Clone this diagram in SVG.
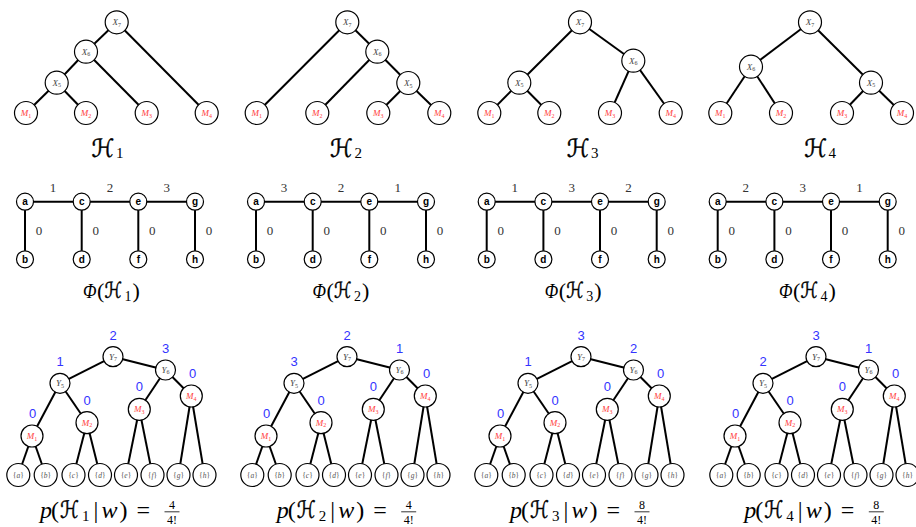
<svg xmlns="http://www.w3.org/2000/svg" width="916" height="527" viewBox="0 0 916 527">
<style>
.e{stroke:#000;stroke-width:2;fill:none}
.n{fill:#fff;stroke:#000;stroke-width:1.2}
.x{font-family:"Liberation Serif","DejaVu Serif",serif;font-style:italic;font-size:9px;fill:#444;text-anchor:middle}
.m{font-family:"Liberation Serif","DejaVu Serif",serif;font-style:italic;font-size:9px;fill:#ff4040;text-anchor:middle}
.s{font-size:6px;font-style:normal}
.lt{font-family:"Liberation Sans",sans-serif;font-weight:bold;font-size:10px;text-anchor:middle}
.w{font-family:"Liberation Serif",serif;font-size:13px;fill:#333;text-anchor:middle}
.b{font-family:"Liberation Sans",sans-serif;font-size:13px;fill:#3333ff;text-anchor:middle}
.lf{font-family:"Liberation Serif",serif;font-size:7.5px;fill:#555;text-anchor:middle}
.hs{font-family:"DejaVu Sans",sans-serif;fill:#000;stroke:#000;stroke-width:0.45}
.t{font-family:"Liberation Serif","DejaVu Serif",serif;fill:#000}
.i{font-style:italic}
.z25{font-size:25px}.z24{font-size:24px}.z22{font-size:22px}.z15{font-size:15px}.z14{font-size:14px}.z12{font-size:12px}
.fb{stroke:#000;stroke-width:0.8}
</style>
<rect width="916" height="527" fill="#fff"/>

<g id="connectors">
 <line class="e" x1="116.7" y1="22.3" x2="86" y2="51.7"/>
 <line class="e" x1="116.7" y1="22.3" x2="206.7" y2="113"/>
 <line class="e" x1="86" y1="51.7" x2="56.7" y2="82.7"/>
 <line class="e" x1="86" y1="51.7" x2="146.7" y2="113"/>
 <line class="e" x1="56.7" y1="82.7" x2="26" y2="113"/>
 <line class="e" x1="56.7" y1="82.7" x2="86" y2="113"/>

 <line class="e" x1="347.3" y1="22.3" x2="256.7" y2="113"/>
 <line class="e" x1="347.3" y1="22.3" x2="377.3" y2="51.7"/>
 <line class="e" x1="377.3" y1="51.7" x2="317.3" y2="113"/>
 <line class="e" x1="377.3" y1="51.7" x2="408.3" y2="83"/>
 <line class="e" x1="408.3" y1="83" x2="378.3" y2="113"/>
 <line class="e" x1="408.3" y1="83" x2="439.3" y2="113"/>

 <line class="e" x1="580" y1="22.3" x2="519.3" y2="82.7"/>
 <line class="e" x1="580" y1="22.3" x2="633.3" y2="60.7"/>
 <line class="e" x1="519.3" y1="82.7" x2="489.3" y2="113"/>
 <line class="e" x1="519.3" y1="82.7" x2="549.3" y2="113"/>
 <line class="e" x1="633.3" y1="60.7" x2="610" y2="113"/>
 <line class="e" x1="633.3" y1="60.7" x2="670.7" y2="113"/>

 <line class="e" x1="810" y1="22.3" x2="751" y2="66.7"/>
 <line class="e" x1="810" y1="22.3" x2="871" y2="82.7"/>
 <line class="e" x1="751" y1="66.7" x2="720.3" y2="113"/>
 <line class="e" x1="751" y1="66.7" x2="781" y2="113"/>
 <line class="e" x1="871" y1="82.7" x2="842" y2="113"/>
 <line class="e" x1="871" y1="82.7" x2="902" y2="113"/>

 <g id="mid-edges-1" transform="translate(25,0)">
  <line class="e" x1="0" y1="201.7" x2="170" y2="201.7"/>
  <line class="e" x1="0" y1="201.7" x2="0" y2="259.3"/>
  <line class="e" x1="56.7" y1="201.7" x2="56.7" y2="259.3"/>
  <line class="e" x1="113.3" y1="201.7" x2="113.3" y2="259.3"/>
  <line class="e" x1="170" y1="201.7" x2="170" y2="259.3"/>
  <text class="w" x="28" y="192">1</text><text class="w" x="85" y="192">2</text><text class="w" x="141.7" y="192">3</text>
  <text class="w" x="14" y="235">0</text><text class="w" x="70.7" y="235">0</text><text class="w" x="127.3" y="235">0</text><text class="w" x="184" y="235">0</text>
 </g>
 <g id="mid-edges-2" transform="translate(256,0)">
  <line class="e" x1="0" y1="201.7" x2="170" y2="201.7"/>
  <line class="e" x1="0" y1="201.7" x2="0" y2="259.3"/>
  <line class="e" x1="56.7" y1="201.7" x2="56.7" y2="259.3"/>
  <line class="e" x1="113.3" y1="201.7" x2="113.3" y2="259.3"/>
  <line class="e" x1="170" y1="201.7" x2="170" y2="259.3"/>
  <text class="w" x="28" y="192">3</text><text class="w" x="85" y="192">2</text><text class="w" x="141.7" y="192">1</text>
  <text class="w" x="14" y="235">0</text><text class="w" x="70.7" y="235">0</text><text class="w" x="127.3" y="235">0</text><text class="w" x="184" y="235">0</text>
 </g>
 <g id="mid-edges-3" transform="translate(486.7,0)">
  <line class="e" x1="0" y1="201.7" x2="170" y2="201.7"/>
  <line class="e" x1="0" y1="201.7" x2="0" y2="259.3"/>
  <line class="e" x1="56.7" y1="201.7" x2="56.7" y2="259.3"/>
  <line class="e" x1="113.3" y1="201.7" x2="113.3" y2="259.3"/>
  <line class="e" x1="170" y1="201.7" x2="170" y2="259.3"/>
  <text class="w" x="28" y="192">1</text><text class="w" x="85" y="192">3</text><text class="w" x="141.7" y="192">2</text>
  <text class="w" x="14" y="235">0</text><text class="w" x="70.7" y="235">0</text><text class="w" x="127.3" y="235">0</text><text class="w" x="184" y="235">0</text>
 </g>
 <g id="mid-edges-4" transform="translate(717.7,0)">
  <line class="e" x1="0" y1="201.7" x2="170" y2="201.7"/>
  <line class="e" x1="0" y1="201.7" x2="0" y2="259.3"/>
  <line class="e" x1="56.7" y1="201.7" x2="56.7" y2="259.3"/>
  <line class="e" x1="113.3" y1="201.7" x2="113.3" y2="259.3"/>
  <line class="e" x1="170" y1="201.7" x2="170" y2="259.3"/>
  <text class="w" x="28" y="192">2</text><text class="w" x="85" y="192">3</text><text class="w" x="141.7" y="192">1</text>
  <text class="w" x="14" y="235">0</text><text class="w" x="70.7" y="235">0</text><text class="w" x="127.3" y="235">0</text><text class="w" x="184" y="235">0</text>
 </g>

 <g id="bot-edges-1">
  <line class="e" x1="113" y1="356.7" x2="60" y2="383.3"/><line class="e" x1="113" y1="356.7" x2="165.5" y2="370"/>
  <line class="e" x1="60" y1="383.3" x2="32" y2="436"/><line class="e" x1="60" y1="383.3" x2="87" y2="422.7"/>
  <line class="e" x1="165.5" y1="370" x2="139.3" y2="409.3"/><line class="e" x1="165.5" y1="370" x2="191.3" y2="396"/>
  <line class="e" x1="32" y1="436" x2="18.3" y2="475"/><line class="e" x1="32" y1="436" x2="45.7" y2="475"/>
  <line class="e" x1="87" y1="422.7" x2="73.5" y2="475"/><line class="e" x1="87" y1="422.7" x2="100" y2="475"/>
  <line class="e" x1="139.3" y1="409.3" x2="126" y2="475"/><line class="e" x1="139.3" y1="409.3" x2="152.5" y2="475"/>
  <line class="e" x1="191.3" y1="396" x2="178.5" y2="475"/><line class="e" x1="191.3" y1="396" x2="204.5" y2="475"/>
 </g>
 <g id="bot-edges-2" transform="translate(234,0)">
  <line class="e" x1="113" y1="356.7" x2="60" y2="383.3"/><line class="e" x1="113" y1="356.7" x2="165.5" y2="370"/>
  <line class="e" x1="60" y1="383.3" x2="32" y2="436"/><line class="e" x1="60" y1="383.3" x2="87" y2="422.7"/>
  <line class="e" x1="165.5" y1="370" x2="139.3" y2="409.3"/><line class="e" x1="165.5" y1="370" x2="191.3" y2="396"/>
  <line class="e" x1="32" y1="436" x2="18.3" y2="475"/><line class="e" x1="32" y1="436" x2="45.7" y2="475"/>
  <line class="e" x1="87" y1="422.7" x2="73.5" y2="475"/><line class="e" x1="87" y1="422.7" x2="100" y2="475"/>
  <line class="e" x1="139.3" y1="409.3" x2="126" y2="475"/><line class="e" x1="139.3" y1="409.3" x2="152.5" y2="475"/>
  <line class="e" x1="191.3" y1="396" x2="178.5" y2="475"/><line class="e" x1="191.3" y1="396" x2="204.5" y2="475"/>
 </g>
 <g id="bot-edges-3" transform="translate(468,0)">
  <line class="e" x1="113" y1="356.7" x2="60" y2="383.3"/><line class="e" x1="113" y1="356.7" x2="165.5" y2="370"/>
  <line class="e" x1="60" y1="383.3" x2="32" y2="436"/><line class="e" x1="60" y1="383.3" x2="87" y2="422.7"/>
  <line class="e" x1="165.5" y1="370" x2="139.3" y2="409.3"/><line class="e" x1="165.5" y1="370" x2="191.3" y2="396"/>
  <line class="e" x1="32" y1="436" x2="18.3" y2="475"/><line class="e" x1="32" y1="436" x2="45.7" y2="475"/>
  <line class="e" x1="87" y1="422.7" x2="73.5" y2="475"/><line class="e" x1="87" y1="422.7" x2="100" y2="475"/>
  <line class="e" x1="139.3" y1="409.3" x2="126" y2="475"/><line class="e" x1="139.3" y1="409.3" x2="152.5" y2="475"/>
  <line class="e" x1="191.3" y1="396" x2="178.5" y2="475"/><line class="e" x1="191.3" y1="396" x2="204.5" y2="475"/>
 </g>
 <g id="bot-edges-4" transform="translate(703,0)">
  <line class="e" x1="113" y1="356.7" x2="60" y2="383.3"/><line class="e" x1="113" y1="356.7" x2="165.5" y2="370"/>
  <line class="e" x1="60" y1="383.3" x2="32" y2="436"/><line class="e" x1="60" y1="383.3" x2="87" y2="422.7"/>
  <line class="e" x1="165.5" y1="370" x2="139.3" y2="409.3"/><line class="e" x1="165.5" y1="370" x2="191.3" y2="396"/>
  <line class="e" x1="32" y1="436" x2="18.3" y2="475"/><line class="e" x1="32" y1="436" x2="45.7" y2="475"/>
  <line class="e" x1="87" y1="422.7" x2="73.5" y2="475"/><line class="e" x1="87" y1="422.7" x2="100" y2="475"/>
  <line class="e" x1="139.3" y1="409.3" x2="126" y2="475"/><line class="e" x1="139.3" y1="409.3" x2="152.5" y2="475"/>
  <line class="e" x1="191.3" y1="396" x2="178.5" y2="475"/><line class="e" x1="191.3" y1="396" x2="204.5" y2="475"/>
 </g>
</g>

<g id="H1">
 <g id="H1-X7"><circle class="n" cx="116.7" cy="22.3" r="11.5"/><text class="x" x="116.7" y="25.3">X<tspan class="s" dy="1.5">7</tspan></text></g>
 <g id="H1-X6"><circle class="n" cx="86" cy="51.7" r="11.5"/><text class="x" x="86" y="54.7">X<tspan class="s" dy="1.5">6</tspan></text></g>
 <g id="H1-X5"><circle class="n" cx="56.7" cy="82.7" r="11.5"/><text class="x" x="56.7" y="85.7">X<tspan class="s" dy="1.5">5</tspan></text></g>
 <g id="H1-M1"><circle class="n" cx="26" cy="113" r="11.5"/><text class="m" x="26" y="116">M<tspan class="s" dy="1.5">1</tspan></text></g>
 <g id="H1-M2"><circle class="n" cx="86" cy="113" r="11.5"/><text class="m" x="86" y="116">M<tspan class="s" dy="1.5">2</tspan></text></g>
 <g id="H1-M3"><circle class="n" cx="146.7" cy="113" r="11.5"/><text class="m" x="146.7" y="116">M<tspan class="s" dy="1.5">3</tspan></text></g>
 <g id="H1-M4"><circle class="n" cx="206.7" cy="113" r="11.5"/><text class="m" x="206.7" y="116">M<tspan class="s" dy="1.5">4</tspan></text></g>
 <text class="hs z25" x="91.5" y="156.5" textLength="23" lengthAdjust="spacingAndGlyphs">ℋ</text><text class="t z15" x="116" y="158">1</text>
</g>
<g id="H2">
 <g id="H2-X7"><circle class="n" cx="347.3" cy="22.3" r="11.5"/><text class="x" x="347.3" y="25.3">X<tspan class="s" dy="1.5">7</tspan></text></g>
 <g id="H2-X6"><circle class="n" cx="377.3" cy="51.7" r="11.5"/><text class="x" x="377.3" y="54.7">X<tspan class="s" dy="1.5">6</tspan></text></g>
 <g id="H2-X5"><circle class="n" cx="408.3" cy="83" r="11.5"/><text class="x" x="408.3" y="86">X<tspan class="s" dy="1.5">5</tspan></text></g>
 <g id="H2-M1"><circle class="n" cx="256.7" cy="113" r="11.5"/><text class="m" x="256.7" y="116">M<tspan class="s" dy="1.5">1</tspan></text></g>
 <g id="H2-M2"><circle class="n" cx="317.3" cy="113" r="11.5"/><text class="m" x="317.3" y="116">M<tspan class="s" dy="1.5">2</tspan></text></g>
 <g id="H2-M3"><circle class="n" cx="378.3" cy="113" r="11.5"/><text class="m" x="378.3" y="116">M<tspan class="s" dy="1.5">3</tspan></text></g>
 <g id="H2-M4"><circle class="n" cx="439.3" cy="113" r="11.5"/><text class="m" x="439.3" y="116">M<tspan class="s" dy="1.5">4</tspan></text></g>
 <text class="hs z25" x="330" y="156.5" textLength="23" lengthAdjust="spacingAndGlyphs">ℋ</text><text class="t z15" x="354.5" y="158">2</text>
</g>
<g id="H3">
 <g id="H3-X7"><circle class="n" cx="580" cy="22.3" r="11.5"/><text class="x" x="580" y="25.3">X<tspan class="s" dy="1.5">7</tspan></text></g>
 <g id="H3-X6"><circle class="n" cx="633.3" cy="60.7" r="11.5"/><text class="x" x="633.3" y="63.7">X<tspan class="s" dy="1.5">6</tspan></text></g>
 <g id="H3-X5"><circle class="n" cx="519.3" cy="82.7" r="11.5"/><text class="x" x="519.3" y="85.7">X<tspan class="s" dy="1.5">5</tspan></text></g>
 <g id="H3-M1"><circle class="n" cx="489.3" cy="113" r="11.5"/><text class="m" x="489.3" y="116">M<tspan class="s" dy="1.5">1</tspan></text></g>
 <g id="H3-M2"><circle class="n" cx="549.3" cy="113" r="11.5"/><text class="m" x="549.3" y="116">M<tspan class="s" dy="1.5">2</tspan></text></g>
 <g id="H3-M3"><circle class="n" cx="610" cy="113" r="11.5"/><text class="m" x="610" y="116">M<tspan class="s" dy="1.5">3</tspan></text></g>
 <g id="H3-M4"><circle class="n" cx="670.7" cy="113" r="11.5"/><text class="m" x="670.7" y="116">M<tspan class="s" dy="1.5">4</tspan></text></g>
 <text class="hs z25" x="566.7" y="156.5" textLength="23" lengthAdjust="spacingAndGlyphs">ℋ</text><text class="t z15" x="591" y="158">3</text>
</g>
<g id="H4">
 <g id="H4-X7"><circle class="n" cx="810" cy="22.3" r="11.5"/><text class="x" x="810" y="25.3">X<tspan class="s" dy="1.5">7</tspan></text></g>
 <g id="H4-X6"><circle class="n" cx="751" cy="66.7" r="11.5"/><text class="x" x="751" y="69.7">X<tspan class="s" dy="1.5">6</tspan></text></g>
 <g id="H4-X5"><circle class="n" cx="871" cy="82.7" r="11.5"/><text class="x" x="871" y="85.7">X<tspan class="s" dy="1.5">5</tspan></text></g>
 <g id="H4-M1"><circle class="n" cx="720.3" cy="113" r="11.5"/><text class="m" x="720.3" y="116">M<tspan class="s" dy="1.5">1</tspan></text></g>
 <g id="H4-M2"><circle class="n" cx="781" cy="113" r="11.5"/><text class="m" x="781" y="116">M<tspan class="s" dy="1.5">2</tspan></text></g>
 <g id="H4-M3"><circle class="n" cx="842" cy="113" r="11.5"/><text class="m" x="842" y="116">M<tspan class="s" dy="1.5">3</tspan></text></g>
 <g id="H4-M4"><circle class="n" cx="902" cy="113" r="11.5"/><text class="m" x="902" y="116">M<tspan class="s" dy="1.5">4</tspan></text></g>
 <text class="hs z25" x="804.3" y="156.5" textLength="23" lengthAdjust="spacingAndGlyphs">ℋ</text><text class="t z15" x="828.5" y="158">4</text>
</g>

<g id="Phi1" transform="translate(25,0)">
 <g id="Phi1-a"><circle class="n" cx="0" cy="201.7" r="8.5"/><text class="lt" x="0" y="205.2">a</text></g>
 <g id="Phi1-c"><circle class="n" cx="56.7" cy="201.7" r="8.5"/><text class="lt" x="56.7" y="205.2">c</text></g>
 <g id="Phi1-e"><circle class="n" cx="113.3" cy="201.7" r="8.5"/><text class="lt" x="113.3" y="205.2">e</text></g>
 <g id="Phi1-g"><circle class="n" cx="170" cy="201.7" r="8.5"/><text class="lt" x="170" y="205.2">g</text></g>
 <g id="Phi1-b"><circle class="n" cx="0" cy="259.3" r="8.5"/><text class="lt" x="0" y="262.8">b</text></g>
 <g id="Phi1-d"><circle class="n" cx="56.7" cy="259.3" r="8.5"/><text class="lt" x="56.7" y="262.8">d</text></g>
 <g id="Phi1-f"><circle class="n" cx="113.3" cy="259.3" r="8.5"/><text class="lt" x="113.3" y="262.8">f</text></g>
 <g id="Phi1-h"><circle class="n" cx="170" cy="259.3" r="8.5"/><text class="lt" x="170" y="262.8">h</text></g>
 <text class="t z22 i" x="58" y="298" textLength="13.5" lengthAdjust="spacingAndGlyphs">Φ</text><text class="t z22" x="72" y="298">(</text><text class="hs z22" x="79.5" y="298" textLength="17.5" lengthAdjust="spacingAndGlyphs">ℋ</text><text class="t z14" x="99.5" y="301">1</text><text class="t z22" x="107.5" y="298">)</text>
</g>
<g id="Phi2" transform="translate(256,0)">
 <g id="Phi2-a"><circle class="n" cx="0" cy="201.7" r="8.5"/><text class="lt" x="0" y="205.2">a</text></g>
 <g id="Phi2-c"><circle class="n" cx="56.7" cy="201.7" r="8.5"/><text class="lt" x="56.7" y="205.2">c</text></g>
 <g id="Phi2-e"><circle class="n" cx="113.3" cy="201.7" r="8.5"/><text class="lt" x="113.3" y="205.2">e</text></g>
 <g id="Phi2-g"><circle class="n" cx="170" cy="201.7" r="8.5"/><text class="lt" x="170" y="205.2">g</text></g>
 <g id="Phi2-b"><circle class="n" cx="0" cy="259.3" r="8.5"/><text class="lt" x="0" y="262.8">b</text></g>
 <g id="Phi2-d"><circle class="n" cx="56.7" cy="259.3" r="8.5"/><text class="lt" x="56.7" y="262.8">d</text></g>
 <g id="Phi2-f"><circle class="n" cx="113.3" cy="259.3" r="8.5"/><text class="lt" x="113.3" y="262.8">f</text></g>
 <g id="Phi2-h"><circle class="n" cx="170" cy="259.3" r="8.5"/><text class="lt" x="170" y="262.8">h</text></g>
 <text class="t z22 i" x="56.4" y="298" textLength="13.5" lengthAdjust="spacingAndGlyphs">Φ</text><text class="t z22" x="70.4" y="298">(</text><text class="hs z22" x="77.9" y="298" textLength="17.5" lengthAdjust="spacingAndGlyphs">ℋ</text><text class="t z14" x="97.9" y="301">2</text><text class="t z22" x="105.9" y="298">)</text>
</g>
<g id="Phi3" transform="translate(486.7,0)">
 <g id="Phi3-a"><circle class="n" cx="0" cy="201.7" r="8.5"/><text class="lt" x="0" y="205.2">a</text></g>
 <g id="Phi3-c"><circle class="n" cx="56.7" cy="201.7" r="8.5"/><text class="lt" x="56.7" y="205.2">c</text></g>
 <g id="Phi3-e"><circle class="n" cx="113.3" cy="201.7" r="8.5"/><text class="lt" x="113.3" y="205.2">e</text></g>
 <g id="Phi3-g"><circle class="n" cx="170" cy="201.7" r="8.5"/><text class="lt" x="170" y="205.2">g</text></g>
 <g id="Phi3-b"><circle class="n" cx="0" cy="259.3" r="8.5"/><text class="lt" x="0" y="262.8">b</text></g>
 <g id="Phi3-d"><circle class="n" cx="56.7" cy="259.3" r="8.5"/><text class="lt" x="56.7" y="262.8">d</text></g>
 <g id="Phi3-f"><circle class="n" cx="113.3" cy="259.3" r="8.5"/><text class="lt" x="113.3" y="262.8">f</text></g>
 <g id="Phi3-h"><circle class="n" cx="170" cy="259.3" r="8.5"/><text class="lt" x="170" y="262.8">h</text></g>
 <text class="t z22 i" x="58" y="298" textLength="13.5" lengthAdjust="spacingAndGlyphs">Φ</text><text class="t z22" x="72" y="298">(</text><text class="hs z22" x="79.5" y="298" textLength="17.5" lengthAdjust="spacingAndGlyphs">ℋ</text><text class="t z14" x="99.5" y="301">3</text><text class="t z22" x="107.5" y="298">)</text>
</g>
<g id="Phi4" transform="translate(717.7,0)">
 <g id="Phi4-a"><circle class="n" cx="0" cy="201.7" r="8.5"/><text class="lt" x="0" y="205.2">a</text></g>
 <g id="Phi4-c"><circle class="n" cx="56.7" cy="201.7" r="8.5"/><text class="lt" x="56.7" y="205.2">c</text></g>
 <g id="Phi4-e"><circle class="n" cx="113.3" cy="201.7" r="8.5"/><text class="lt" x="113.3" y="205.2">e</text></g>
 <g id="Phi4-g"><circle class="n" cx="170" cy="201.7" r="8.5"/><text class="lt" x="170" y="205.2">g</text></g>
 <g id="Phi4-b"><circle class="n" cx="0" cy="259.3" r="8.5"/><text class="lt" x="0" y="262.8">b</text></g>
 <g id="Phi4-d"><circle class="n" cx="56.7" cy="259.3" r="8.5"/><text class="lt" x="56.7" y="262.8">d</text></g>
 <g id="Phi4-f"><circle class="n" cx="113.3" cy="259.3" r="8.5"/><text class="lt" x="113.3" y="262.8">f</text></g>
 <g id="Phi4-h"><circle class="n" cx="170" cy="259.3" r="8.5"/><text class="lt" x="170" y="262.8">h</text></g>
 <text class="t z22 i" x="61.3" y="298" textLength="13.5" lengthAdjust="spacingAndGlyphs">Φ</text><text class="t z22" x="75.3" y="298">(</text><text class="hs z22" x="82.8" y="298" textLength="17.5" lengthAdjust="spacingAndGlyphs">ℋ</text><text class="t z14" x="102.8" y="301">4</text><text class="t z22" x="110.8" y="298">)</text>
</g>

<g id="T1">
 <g id="T1-Y7"><circle class="n" cx="113" cy="356.7" r="10"/><text class="x" x="113" y="359.5">Y<tspan class="s" dy="1.5">7</tspan></text><text class="b" x="113" y="339.5">2</text></g>
 <g id="T1-Y5"><circle class="n" cx="60" cy="383.3" r="10"/><text class="x" x="60" y="386.1">Y<tspan class="s" dy="1.5">5</tspan></text><text class="b" x="60" y="366.2">1</text></g>
 <g id="T1-Y6"><circle class="n" cx="165.5" cy="370" r="10"/><text class="x" x="165.5" y="372.8">Y<tspan class="s" dy="1.5">6</tspan></text><text class="b" x="165.5" y="352.8">3</text></g>
 <g id="T1-M1"><circle class="n" cx="32" cy="436" r="11"/><text class="m" x="32" y="439">M<tspan class="s" dy="1.5">1</tspan></text><text class="b" x="32.5" y="418">0</text></g>
 <g id="T1-M2"><circle class="n" cx="87" cy="422.7" r="11"/><text class="m" x="87" y="425.7">M<tspan class="s" dy="1.5">2</tspan></text><text class="b" x="87" y="404.5">0</text></g>
 <g id="T1-M3"><circle class="n" cx="139.3" cy="409.3" r="11"/><text class="m" x="139.3" y="412.3">M<tspan class="s" dy="1.5">3</tspan></text><text class="b" x="139.3" y="391.2">0</text></g>
 <g id="T1-M4"><circle class="n" cx="191.3" cy="396" r="11"/><text class="m" x="191.3" y="399">M<tspan class="s" dy="1.5">4</tspan></text><text class="b" x="192.5" y="377.8">0</text></g>
 <g id="T1-a"><circle class="n" cx="18.3" cy="475" r="11.5"/><text class="lf" x="18.3" y="477.6">{<tspan font-style="italic">a</tspan>}</text></g>
 <g id="T1-b"><circle class="n" cx="45.7" cy="475" r="11.5"/><text class="lf" x="45.7" y="477.6">{<tspan font-style="italic">b</tspan>}</text></g>
 <g id="T1-c"><circle class="n" cx="73.5" cy="475" r="11.5"/><text class="lf" x="73.5" y="477.6">{<tspan font-style="italic">c</tspan>}</text></g>
 <g id="T1-d"><circle class="n" cx="100" cy="475" r="11.5"/><text class="lf" x="100" y="477.6">{<tspan font-style="italic">d</tspan>}</text></g>
 <g id="T1-e"><circle class="n" cx="126" cy="475" r="11.5"/><text class="lf" x="126" y="477.6">{<tspan font-style="italic">e</tspan>}</text></g>
 <g id="T1-f"><circle class="n" cx="152.5" cy="475" r="11.5"/><text class="lf" x="152.5" y="477.6">{<tspan font-style="italic">f</tspan>}</text></g>
 <g id="T1-g"><circle class="n" cx="178.5" cy="475" r="11.5"/><text class="lf" x="178.5" y="477.6">{<tspan font-style="italic">g</tspan>}</text></g>
 <g id="T1-h"><circle class="n" cx="204.5" cy="475" r="11.5"/><text class="lf" x="204.5" y="477.6">{<tspan font-style="italic">h</tspan>}</text></g>
</g>
<g id="T2" transform="translate(234,0)">
 <g id="T2-Y7"><circle class="n" cx="113" cy="356.7" r="10"/><text class="x" x="113" y="359.5">Y<tspan class="s" dy="1.5">7</tspan></text><text class="b" x="113" y="339.5">2</text></g>
 <g id="T2-Y5"><circle class="n" cx="60" cy="383.3" r="10"/><text class="x" x="60" y="386.1">Y<tspan class="s" dy="1.5">5</tspan></text><text class="b" x="60" y="366.2">3</text></g>
 <g id="T2-Y6"><circle class="n" cx="165.5" cy="370" r="10"/><text class="x" x="165.5" y="372.8">Y<tspan class="s" dy="1.5">6</tspan></text><text class="b" x="165.5" y="352.8">1</text></g>
 <g id="T2-M1"><circle class="n" cx="32" cy="436" r="11"/><text class="m" x="32" y="439">M<tspan class="s" dy="1.5">1</tspan></text><text class="b" x="32.5" y="418">0</text></g>
 <g id="T2-M2"><circle class="n" cx="87" cy="422.7" r="11"/><text class="m" x="87" y="425.7">M<tspan class="s" dy="1.5">2</tspan></text><text class="b" x="87" y="404.5">0</text></g>
 <g id="T2-M3"><circle class="n" cx="139.3" cy="409.3" r="11"/><text class="m" x="139.3" y="412.3">M<tspan class="s" dy="1.5">3</tspan></text><text class="b" x="139.3" y="391.2">0</text></g>
 <g id="T2-M4"><circle class="n" cx="191.3" cy="396" r="11"/><text class="m" x="191.3" y="399">M<tspan class="s" dy="1.5">4</tspan></text><text class="b" x="192.5" y="377.8">0</text></g>
 <g id="T2-a"><circle class="n" cx="18.3" cy="475" r="11.5"/><text class="lf" x="18.3" y="477.6">{<tspan font-style="italic">a</tspan>}</text></g>
 <g id="T2-b"><circle class="n" cx="45.7" cy="475" r="11.5"/><text class="lf" x="45.7" y="477.6">{<tspan font-style="italic">b</tspan>}</text></g>
 <g id="T2-c"><circle class="n" cx="73.5" cy="475" r="11.5"/><text class="lf" x="73.5" y="477.6">{<tspan font-style="italic">c</tspan>}</text></g>
 <g id="T2-d"><circle class="n" cx="100" cy="475" r="11.5"/><text class="lf" x="100" y="477.6">{<tspan font-style="italic">d</tspan>}</text></g>
 <g id="T2-e"><circle class="n" cx="126" cy="475" r="11.5"/><text class="lf" x="126" y="477.6">{<tspan font-style="italic">e</tspan>}</text></g>
 <g id="T2-f"><circle class="n" cx="152.5" cy="475" r="11.5"/><text class="lf" x="152.5" y="477.6">{<tspan font-style="italic">f</tspan>}</text></g>
 <g id="T2-g"><circle class="n" cx="178.5" cy="475" r="11.5"/><text class="lf" x="178.5" y="477.6">{<tspan font-style="italic">g</tspan>}</text></g>
 <g id="T2-h"><circle class="n" cx="204.5" cy="475" r="11.5"/><text class="lf" x="204.5" y="477.6">{<tspan font-style="italic">h</tspan>}</text></g>
</g>
<g id="T3" transform="translate(468,0)">
 <g id="T3-Y7"><circle class="n" cx="113" cy="356.7" r="10"/><text class="x" x="113" y="359.5">Y<tspan class="s" dy="1.5">7</tspan></text><text class="b" x="113" y="339.5">3</text></g>
 <g id="T3-Y5"><circle class="n" cx="60" cy="383.3" r="10"/><text class="x" x="60" y="386.1">Y<tspan class="s" dy="1.5">5</tspan></text><text class="b" x="60" y="366.2">1</text></g>
 <g id="T3-Y6"><circle class="n" cx="165.5" cy="370" r="10"/><text class="x" x="165.5" y="372.8">Y<tspan class="s" dy="1.5">6</tspan></text><text class="b" x="165.5" y="352.8">2</text></g>
 <g id="T3-M1"><circle class="n" cx="32" cy="436" r="11"/><text class="m" x="32" y="439">M<tspan class="s" dy="1.5">1</tspan></text><text class="b" x="32.5" y="418">0</text></g>
 <g id="T3-M2"><circle class="n" cx="87" cy="422.7" r="11"/><text class="m" x="87" y="425.7">M<tspan class="s" dy="1.5">2</tspan></text><text class="b" x="87" y="404.5">0</text></g>
 <g id="T3-M3"><circle class="n" cx="139.3" cy="409.3" r="11"/><text class="m" x="139.3" y="412.3">M<tspan class="s" dy="1.5">3</tspan></text><text class="b" x="139.3" y="391.2">0</text></g>
 <g id="T3-M4"><circle class="n" cx="191.3" cy="396" r="11"/><text class="m" x="191.3" y="399">M<tspan class="s" dy="1.5">4</tspan></text><text class="b" x="192.5" y="377.8">0</text></g>
 <g id="T3-a"><circle class="n" cx="18.3" cy="475" r="11.5"/><text class="lf" x="18.3" y="477.6">{<tspan font-style="italic">a</tspan>}</text></g>
 <g id="T3-b"><circle class="n" cx="45.7" cy="475" r="11.5"/><text class="lf" x="45.7" y="477.6">{<tspan font-style="italic">b</tspan>}</text></g>
 <g id="T3-c"><circle class="n" cx="73.5" cy="475" r="11.5"/><text class="lf" x="73.5" y="477.6">{<tspan font-style="italic">c</tspan>}</text></g>
 <g id="T3-d"><circle class="n" cx="100" cy="475" r="11.5"/><text class="lf" x="100" y="477.6">{<tspan font-style="italic">d</tspan>}</text></g>
 <g id="T3-e"><circle class="n" cx="126" cy="475" r="11.5"/><text class="lf" x="126" y="477.6">{<tspan font-style="italic">e</tspan>}</text></g>
 <g id="T3-f"><circle class="n" cx="152.5" cy="475" r="11.5"/><text class="lf" x="152.5" y="477.6">{<tspan font-style="italic">f</tspan>}</text></g>
 <g id="T3-g"><circle class="n" cx="178.5" cy="475" r="11.5"/><text class="lf" x="178.5" y="477.6">{<tspan font-style="italic">g</tspan>}</text></g>
 <g id="T3-h"><circle class="n" cx="204.5" cy="475" r="11.5"/><text class="lf" x="204.5" y="477.6">{<tspan font-style="italic">h</tspan>}</text></g>
</g>
<g id="T4" transform="translate(703,0)">
 <g id="T4-Y7"><circle class="n" cx="113" cy="356.7" r="10"/><text class="x" x="113" y="359.5">Y<tspan class="s" dy="1.5">7</tspan></text><text class="b" x="113" y="339.5">3</text></g>
 <g id="T4-Y5"><circle class="n" cx="60" cy="383.3" r="10"/><text class="x" x="60" y="386.1">Y<tspan class="s" dy="1.5">5</tspan></text><text class="b" x="60" y="366.2">2</text></g>
 <g id="T4-Y6"><circle class="n" cx="165.5" cy="370" r="10"/><text class="x" x="165.5" y="372.8">Y<tspan class="s" dy="1.5">6</tspan></text><text class="b" x="165.5" y="352.8">1</text></g>
 <g id="T4-M1"><circle class="n" cx="32" cy="436" r="11"/><text class="m" x="32" y="439">M<tspan class="s" dy="1.5">1</tspan></text><text class="b" x="32.5" y="418">0</text></g>
 <g id="T4-M2"><circle class="n" cx="87" cy="422.7" r="11"/><text class="m" x="87" y="425.7">M<tspan class="s" dy="1.5">2</tspan></text><text class="b" x="87" y="404.5">0</text></g>
 <g id="T4-M3"><circle class="n" cx="139.3" cy="409.3" r="11"/><text class="m" x="139.3" y="412.3">M<tspan class="s" dy="1.5">3</tspan></text><text class="b" x="139.3" y="391.2">0</text></g>
 <g id="T4-M4"><circle class="n" cx="191.3" cy="396" r="11"/><text class="m" x="191.3" y="399">M<tspan class="s" dy="1.5">4</tspan></text><text class="b" x="192.5" y="377.8">0</text></g>
 <g id="T4-a"><circle class="n" cx="18.3" cy="475" r="11.5"/><text class="lf" x="18.3" y="477.6">{<tspan font-style="italic">a</tspan>}</text></g>
 <g id="T4-b"><circle class="n" cx="45.7" cy="475" r="11.5"/><text class="lf" x="45.7" y="477.6">{<tspan font-style="italic">b</tspan>}</text></g>
 <g id="T4-c"><circle class="n" cx="73.5" cy="475" r="11.5"/><text class="lf" x="73.5" y="477.6">{<tspan font-style="italic">c</tspan>}</text></g>
 <g id="T4-d"><circle class="n" cx="100" cy="475" r="11.5"/><text class="lf" x="100" y="477.6">{<tspan font-style="italic">d</tspan>}</text></g>
 <g id="T4-e"><circle class="n" cx="126" cy="475" r="11.5"/><text class="lf" x="126" y="477.6">{<tspan font-style="italic">e</tspan>}</text></g>
 <g id="T4-f"><circle class="n" cx="152.5" cy="475" r="11.5"/><text class="lf" x="152.5" y="477.6">{<tspan font-style="italic">f</tspan>}</text></g>
 <g id="T4-g"><circle class="n" cx="178.5" cy="475" r="11.5"/><text class="lf" x="178.5" y="477.6">{<tspan font-style="italic">g</tspan>}</text></g>
 <g id="T4-h"><circle class="n" cx="204.5" cy="475" r="11.5"/><text class="lf" x="204.5" y="477.6">{<tspan font-style="italic">h</tspan>}</text></g>
</g>

<g id="F1">
 <text class="t z24 i" x="40" y="518">p</text><text class="t z24" x="51" y="518">(</text><text class="hs z24" x="60" y="518" textLength="19" lengthAdjust="spacingAndGlyphs">ℋ</text><text class="t z15" x="82" y="521">1</text><text class="t z24" x="93.5" y="518">|</text><text class="t z24 i" x="101.5" y="518">w</text><text class="t z24" x="119.5" y="518">)</text><text class="t z24" x="136.5" y="518">=</text>
 <text class="t z12" x="172" y="509" text-anchor="middle">4</text>
 <line class="fb" x1="164.5" y1="511.8" x2="179.5" y2="511.8"/>
 <text class="t z12" x="172" y="523.5" text-anchor="middle">4!</text>
</g>
<g id="F2" transform="translate(236.7,0)">
 <text class="t z24 i" x="40" y="518">p</text><text class="t z24" x="51" y="518">(</text><text class="hs z24" x="60" y="518" textLength="19" lengthAdjust="spacingAndGlyphs">ℋ</text><text class="t z15" x="82" y="521">2</text><text class="t z24" x="93.5" y="518">|</text><text class="t z24 i" x="101.5" y="518">w</text><text class="t z24" x="119.5" y="518">)</text><text class="t z24" x="136.5" y="518">=</text>
 <text class="t z12" x="172" y="509" text-anchor="middle">4</text>
 <line class="fb" x1="164.5" y1="511.8" x2="179.5" y2="511.8"/>
 <text class="t z12" x="172" y="523.5" text-anchor="middle">4!</text>
</g>
<g id="F3" transform="translate(470,0)">
 <text class="t z24 i" x="40" y="518">p</text><text class="t z24" x="51" y="518">(</text><text class="hs z24" x="60" y="518" textLength="19" lengthAdjust="spacingAndGlyphs">ℋ</text><text class="t z15" x="82" y="521">3</text><text class="t z24" x="93.5" y="518">|</text><text class="t z24 i" x="101.5" y="518">w</text><text class="t z24" x="119.5" y="518">)</text><text class="t z24" x="136.5" y="518">=</text>
 <text class="t z12" x="172" y="509" text-anchor="middle">8</text>
 <line class="fb" x1="164.5" y1="511.8" x2="179.5" y2="511.8"/>
 <text class="t z12" x="172" y="523.5" text-anchor="middle">4!</text>
</g>
<g id="F4" transform="translate(704.3,0)">
 <text class="t z24 i" x="40" y="518">p</text><text class="t z24" x="51" y="518">(</text><text class="hs z24" x="60" y="518" textLength="19" lengthAdjust="spacingAndGlyphs">ℋ</text><text class="t z15" x="82" y="521">4</text><text class="t z24" x="93.5" y="518">|</text><text class="t z24 i" x="101.5" y="518">w</text><text class="t z24" x="119.5" y="518">)</text><text class="t z24" x="136.5" y="518">=</text>
 <text class="t z12" x="172" y="509" text-anchor="middle">8</text>
 <line class="fb" x1="164.5" y1="511.8" x2="179.5" y2="511.8"/>
 <text class="t z12" x="172" y="523.5" text-anchor="middle">4!</text>
</g>
</svg>
